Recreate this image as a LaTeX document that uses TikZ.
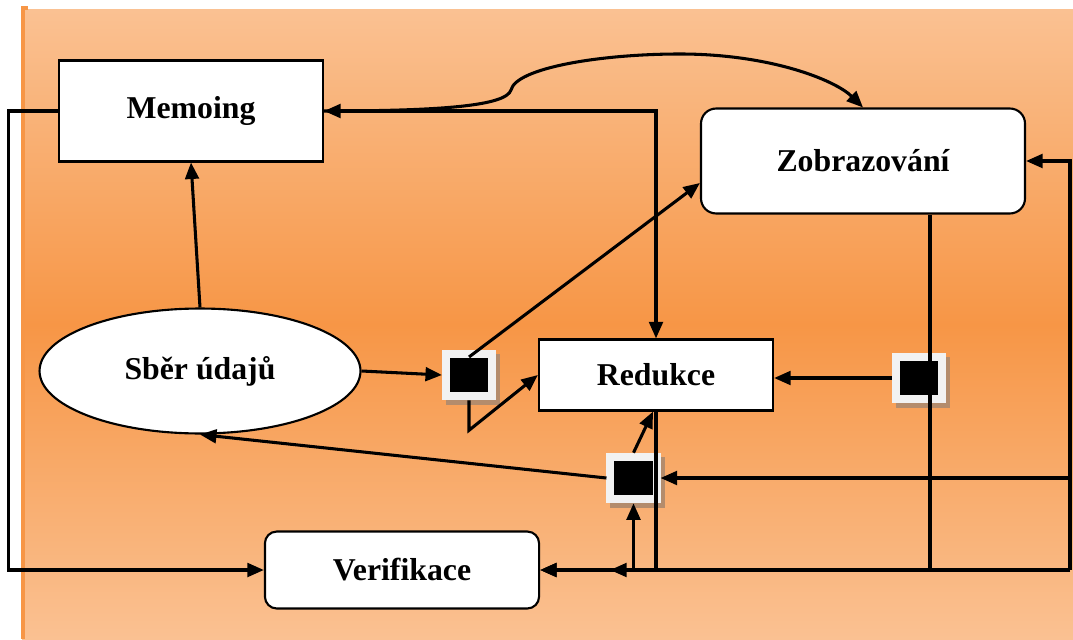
\documentclass[tikz,border=0pt]{standalone}
\usepackage{fontspec}
\setmainfont{Liberation Serif}
\usetikzlibrary{arrows.meta, calc, shapes.geometric, positioning}
\definecolor{bglight}{HTML}{FAC192}
\definecolor{bgdark}{HTML}{F79646}
\definecolor{gateframe}{HTML}{F2F2F2}
\definecolor{gateshadow}{HTML}{B48C6C}
\tikzset{
	procbox/.style={draw, line width=0.9pt, fill=white, inner sep=0pt,
			font=\bfseries\fontsize{13.5}{16}\selectfont}
}
\tikzset{
	gatebox/.style={draw=gateframe, fill=black, line width=3.4pt,
			minimum width=19.6pt, minimum height=18.1pt, inner sep=0pt,
			preaction={draw=gateshadow, fill=gateshadow,
					transform canvas={shift={(1.7pt,-2pt)}}}}
}
\tikzset{
	flowline/.style={line width=1.3pt, ->}
}

\begin{document}
\begin{tikzpicture}[x=0.425pt, y=-0.425pt, >={Triangle[length=7pt,width=5.8pt]}]

	\useasboundingbox (0,0) rectangle (1073,639);

	% orange panel
	\shade[top color=bglight, bottom color=bglight, middle color=bgdark]
	(22,10) rectangle (1073,639);
	\draw[bgdark, line width=1.3pt] (28,8) -- (23,8) -- (23,639);

	\begin{scope}
		\node[procbox, minimum width=112.2pt, minimum height=42.9pt] (memo) at (191,111) {Memoing};
		\node[procbox, rounded corners=6.4pt, minimum width=137.7pt, minimum height=44.6pt] (zob) at (863,161) {Zobrazování};
		\node[procbox, ellipse, minimum width=136.4pt, minimum height=53.1pt] (sber) at (200,371) {Sběr údajů};
		\node[procbox, minimum width=99.5pt, minimum height=30.2pt] (red) at (656,375) {Redukce};
		\node[procbox, rounded corners=5pt, minimum width=116.5pt, minimum height=32.7pt] (ver) at (402,570) {Verifikace};
	\end{scope}

	\begin{scope}
		\node[gatebox] (g1) at (469,375) {};
		\node[gatebox] (g2) at (633.5,478) {};
		\node[gatebox] (g3) at (919,378) {};
	\end{scope}

	\coordinate (rb) at (1070,570);

	\draw[flowline] (sber.north) -- (memo.south);
	\draw[flowline] (memo.west) -- ++(-49,0) |- (ver.west);
	\draw[flowline, <->] (memo.east) -| (red.north);
	\draw[flowline] (memo.east) .. controls (440,111) and (506,106) .. (511,90)
	.. controls (516,68) and (600,54) .. (680,54)
	.. controls (770,54) and (835,80) .. (zob.north);

	\draw[flowline] (sber.east) -- (g1.west);
	\draw[flowline] ($(g1.center)+(0,-18)$) -- ($(zob.west)+(0,22)$);
	\draw[flowline] (g1.south) -- ++(0,30) -- (red.west);

	\draw[flowline] (g3.west) -- (g3.west -| red.east);
	\draw[flowline] ($(zob.south)+(67,0)$) |- (ver.east);

	\draw[flowline] (rb) |- (zob.east);
	\draw[flowline] (rb) -- (ver.east);
	\draw[flowline] (rb |- g2.east) -- (g2.east);

	\draw[flowline] (red.south) |- ($(ver.east)+(70,0)$);
	\draw[flowline] (g2.south |- ver.east) -- (g2.south);
	\draw[flowline] (g2.north) -- ($(red.south)+(-3,0)$);
	\draw[flowline] (g2.west) -- (sber.south);

\end{tikzpicture}
\end{document}
